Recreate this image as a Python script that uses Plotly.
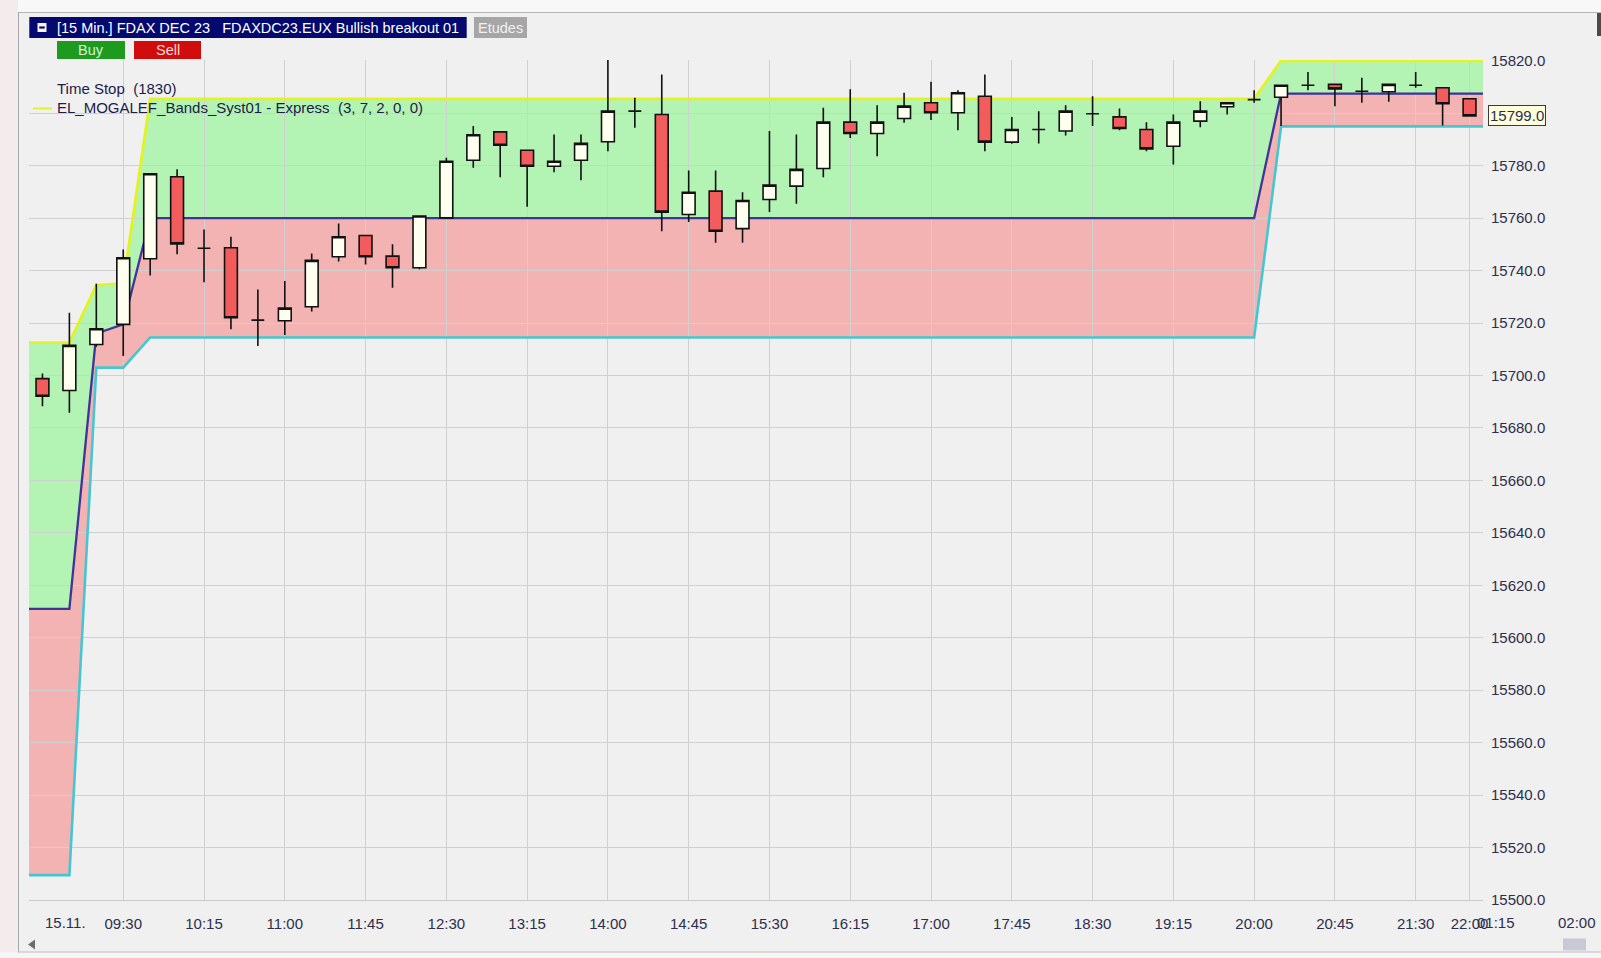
import pandas as pd
import plotly.graph_objects as go

# ------------------------------------------------------------------ data
session_label = "15.11."
bar_times = [t.strftime("%H:%M") for t in pd.date_range("2023-11-15 08:45", "2023-11-15 22:00", freq="15min")]
next_session_times = ["01:15", "01:30", "01:45", "02:00"]
next_session_labels = ["01:15", "02:00"]
tick_labels = ["09:30", "10:15", "11:00", "11:45", "12:30", "13:15", "14:00", "14:45", "15:30",
               "16:15", "17:00", "17:45", "18:30", "19:15", "20:00", "20:45", "21:30", "22:00"]
price_ticks = [15500, 15520, 15540, 15560, 15580, 15600, 15620, 15640, 15660, 15680, 15700,
               15720, 15740, 15760, 15780, 15800, 15820]

opens = [15698.8, 15694.3, 15711.8, 15719.5, 15744.5, 15775.8, 15748.5, 15748.7, 15721.1, 15720.9,
         15726.2, 15745.3, 15753.4, 15745.5, 15741.1, 15760.1, 15782.1, 15792.9, 15785.9, 15779.8,
         15782.1, 15789.1, 15800.8, 15799.5, 15761.4, 15770.3, 15756.0, 15767.1, 15772.2, 15778.9,
         15796.6, 15792.3, 15798.0, 15804.0, 15800.2, 15806.5, 15789.0, 15793.8, 15793.2, 15799.8,
         15798.6, 15793.8, 15787.4, 15797.0, 15802.5, 15805.2, 15806.1, 15810.7, 15811.0, 15808.4,
         15808.2, 15810.7, 15809.7, 15805.5]
highs = [15700.8, 15723.9, 15735.0, 15748.0, 15777.0, 15778.6, 15755.7, 15752.9, 15732.8, 15736.0,
         15746.5, 15758.0, 15753.5, 15750.0, 15761.0, 15783.0, 15795.1, 15793.0, 15786.0, 15791.9,
         15791.9, 15820.8, 15805.9, 15814.8, 15778.2, 15778.2, 15769.9, 15793.2, 15791.9, 15802.1,
         15809.1, 15803.0, 15807.8, 15812.0, 15808.8, 15814.8, 15798.6, 15800.8, 15803.0, 15806.5,
         15801.8, 15796.6, 15799.5, 15804.6, 15804.0, 15808.8, 15810.8, 15815.7, 15811.0, 15813.5,
         15811.0, 15815.7, 15809.8, 15805.6]
lows = [15688.3, 15685.8, 15711.0, 15707.4, 15738.1, 15746.2, 15735.6, 15717.6, 15711.2, 15715.4,
        15724.4, 15743.5, 15742.3, 15733.5, 15740.5, 15760.0, 15779.2, 15775.6, 15764.3, 15777.5,
        15774.4, 15785.5, 15794.5, 15755.0, 15758.5, 15750.6, 15750.6, 15762.3, 15765.5, 15775.6,
        15790.6, 15783.6, 15796.4, 15797.4, 15793.5, 15785.5, 15788.4, 15788.5, 15791.5, 15795.1,
        15793.5, 15785.5, 15780.5, 15794.7, 15799.5, 15804.0, 15795.1, 15808.8, 15802.7, 15804.0,
        15804.4, 15809.7, 15795.3, 15799.0]
closes = [15692.1, 15711.5, 15717.8, 15744.9, 15776.9, 15750.2, 15748.5, 15722.0, 15721.1, 15725.7,
          15743.9, 15752.9, 15745.3, 15741.1, 15760.8, 15781.7, 15791.8, 15787.8, 15779.8, 15781.7,
          15788.5, 15800.8, 15800.8, 15762.3, 15769.9, 15755.0, 15766.7, 15772.6, 15778.6, 15796.6,
          15792.3, 15796.6, 15802.7, 15800.2, 15807.8, 15789.0, 15793.8, 15793.8, 15800.8, 15799.8,
          15794.2, 15786.4, 15796.6, 15800.8, 15804.0, 15805.2, 15810.7, 15810.7, 15809.3, 15808.4,
          15811.0, 15810.7, 15803.6, 15799.0]

band_upper = [15712.5, 15712.5, 15734.5, 15735.0, 15805.5, 15805.5, 15805.5, 15805.5, 15805.5, 15805.5,
              15805.5, 15805.5, 15805.5, 15805.5, 15805.5, 15805.5, 15805.5, 15805.5, 15805.5, 15805.5,
              15805.5, 15805.5, 15805.5, 15805.5, 15805.5, 15805.5, 15805.5, 15805.5, 15805.5, 15805.5,
              15805.5, 15805.5, 15805.5, 15805.5, 15805.5, 15805.5, 15805.5, 15805.5, 15805.5, 15805.5,
              15805.5, 15805.5, 15805.5, 15805.5, 15805.5, 15805.5, 15820.0, 15820.0, 15820.0, 15820.0,
              15820.0, 15820.0, 15820.0, 15820.0]
band_mid = [15611.0, 15611.0, 15716.0, 15719.5, 15760.0, 15760.0, 15760.0, 15760.0, 15760.0, 15760.0,
            15760.0, 15760.0, 15760.0, 15760.0, 15760.0, 15760.0, 15760.0, 15760.0, 15760.0, 15760.0,
            15760.0, 15760.0, 15760.0, 15760.0, 15760.0, 15760.0, 15760.0, 15760.0, 15760.0, 15760.0,
            15760.0, 15760.0, 15760.0, 15760.0, 15760.0, 15760.0, 15760.0, 15760.0, 15760.0, 15760.0,
            15760.0, 15760.0, 15760.0, 15760.0, 15760.0, 15760.0, 15807.5, 15807.5, 15807.5, 15807.5,
            15807.5, 15807.5, 15807.5, 15807.5]
band_lower = [15509.5, 15509.5, 15703.0, 15703.0, 15714.5, 15714.5, 15714.5, 15714.5, 15714.5, 15714.5,
              15714.5, 15714.5, 15714.5, 15714.5, 15714.5, 15714.5, 15714.5, 15714.5, 15714.5, 15714.5,
              15714.5, 15714.5, 15714.5, 15714.5, 15714.5, 15714.5, 15714.5, 15714.5, 15714.5, 15714.5,
              15714.5, 15714.5, 15714.5, 15714.5, 15714.5, 15714.5, 15714.5, 15714.5, 15714.5, 15714.5,
              15714.5, 15714.5, 15714.5, 15714.5, 15714.5, 15714.5, 15795.0, 15795.0, 15795.0, 15795.0,
              15795.0, 15795.0, 15795.0, 15795.0]

header_text = "[15 Min.] FDAX DEC 23&nbsp;&nbsp;&nbsp;FDAXDC23.EUX Bullish breakout 01"
legend_line1 = "Time Stop&nbsp;&nbsp;(1830)"
legend_line2 = "EL_MOGALEF_Bands_Syst01 - Express&nbsp;&nbsp;(3, 7, 2, 0, 0)"

# ------------------------------------------------------------------ geometry
W, H = 1601, 958
ML, MR, MT, MB = 29, 118, 60, 57.5
PW, PH = W - ML - MR, H - MT - MB
FONT = "Liberation Sans, Arial, sans-serif"
TXT = "#2e2e4c"
YRANGE = [15500, 15820.3]

idx = list(range(len(bar_times)))
x0, x1 = idx[0] - 0.5, idx[-1] + 0.5


def px_x(p):
    return (p - ML) / PW


def px_y(p):
    return (H - MB - p) / PH


def bar_to_paper(i):
    return (i - x0) / (x1 - x0)


def ext(v):
    return [v[0]] + list(v) + [v[-1]]


x_band = [x0] + idx + [x1]

fig = go.Figure()
# band lines (base axes)
fig.add_trace(go.Scatter(x=x_band, y=ext(band_lower), mode="lines", line=dict(color="#45c6d0", width=2.6),
                         hoverinfo="skip", showlegend=False))
fig.add_trace(go.Scatter(x=x_band, y=ext(band_mid), mode="lines", line=dict(color="#3d3598", width=2.3),
                         hoverinfo="skip", showlegend=False))
fig.add_trace(go.Scatter(x=x_band, y=ext(band_upper), mode="lines", line=dict(color="#e4f222", width=2.8),
                         hoverinfo="skip", showlegend=False))
# candles on an overlaid pair of axes so they sit above the band lines
fig.add_trace(go.Candlestick(
    x=idx, open=opens, high=highs, low=lows, close=closes, xaxis="x2", yaxis="y2",
    increasing=dict(fillcolor="#fffff0", line=dict(color="#111111", width=1.6)),
    decreasing=dict(fillcolor="#f25c5c", line=dict(color="#111111", width=1.6)),
    whiskerwidth=0, showlegend=False, hoverinfo="skip"))

tick_vals = [bar_times.index(t) for t in tick_labels]
price_text = ["" if p == 15800 else f"{p:.1f}" for p in price_ticks]

shapes = []


def band_path(top, bottom):
    xs = x_band
    pts = [f"{x},{y}" for x, y in zip(xs, ext(top))]
    pts += [f"{x},{y}" for x, y in zip(reversed(xs), reversed(ext(bottom)))]
    return "M " + " L ".join(pts) + " Z"


# band fills drawn beneath the gridlines, as in the reference
shapes.append(dict(type="path", xref="x", yref="y", layer="below", path=band_path(band_mid, band_lower),
                   fillcolor="#f3b3b3", line=dict(width=0)))
shapes.append(dict(type="path", xref="x", yref="y", layer="below", path=band_path(band_upper, band_mid),
                   fillcolor="#b3f3b3", line=dict(width=0)))


def rect(xa, ya, xb, yb, color, line=None):
    shapes.append(dict(type="rect", xref="paper", yref="paper", layer="above",
                       x0=px_x(xa), x1=px_x(xb), y0=px_y(ya), y1=px_y(yb),
                       fillcolor=color, line=dict(width=0) if line is None else line))


def hline(xa, xb, y, color, width):
    shapes.append(dict(type="line", xref="paper", yref="paper", layer="above",
                       x0=px_x(xa), x1=px_x(xb), y0=px_y(y), y1=px_y(y),
                       line=dict(color=color, width=width)))


def vline(x, ya, yb, color, width):
    shapes.append(dict(type="line", xref="paper", yref="paper", layer="above",
                       x0=px_x(x), x1=px_x(x), y0=px_y(ya), y1=px_y(yb),
                       line=dict(color=color, width=width)))


# outer frame of the screenshot
rect(0, 0, W, 12, "#f8f8f8")
rect(0, 0, 18, H, "#f4ecec")
rect(0, 953, W, H, "#f6f6f6")
hline(18, W, 12.5, "#b4b4b4", 1)
vline(18.5, 12, 953, "#a8a8a8", 1)
hline(18, W, 952.5, "#c0c0c0", 1)
rect(1597, 13, W, 36, "#4a4a4a")
# header
rect(29.3, 17, 466.7, 38, "#03096e")
rect(37.5, 23, 46.5, 32, "#f4f4f4")
hline(39.3, 44.7, 27.5, "#03096e", 2.2)
rect(474, 17, 527, 38, "#a6a6a6")
rect(57, 41, 125, 59, "#1e9b1e")
rect(134, 41, 201, 59, "#d00c0c")
# legend line marker
hline(33, 52, 108.5, "#e4f222", 2)
# scrollbar
shapes.append(dict(type="path", xref="paper", yref="paper", layer="above",
                   path=f"M {px_x(28)} {px_y(945)} L {px_x(35)} {px_y(940)} L {px_x(35)} {px_y(950)} Z",
                   fillcolor="#6e6e6e", line=dict(width=0)))
rect(1563, 939, 1586, 951, "#c9c9d6")

annotations = []


def label(x, y, text, color, size, anchor="left"):
    annotations.append(dict(xref="paper", yref="paper", x=px_x(x), y=px_y(y), text=text,
                            showarrow=False, xanchor=anchor, yanchor="middle",
                            font=dict(family=FONT, size=size, color=color)))


label(55, 27.5, header_text, "#ffffff", 14.5)
label(500.5, 27.5, "Etudes", "#f2f2f2", 14.5, "center")
label(91, 50, "Buy", "#d2f5d2", 14.5, "center")
label(167.5, 50, "Sell", "#ffd8d8", 14.5, "center")
label(55, 89, legend_line1, "#1c1c4a", 15)
label(55, 108, legend_line2, "#1c1c4a", 15)

XLAB_Y = 923
annotations.append(dict(xref="paper", yref="paper", x=bar_to_paper(idx[0]) + 1 / PW, y=px_y(XLAB_Y),
                        text=session_label, showarrow=False, xanchor="left", yanchor="middle",
                        font=dict(family=FONT, size=15, color=TXT)))
for lab in next_session_labels:
    pos = idx[-1] + 1 + next_session_times.index(lab)
    annotations.append(dict(xref="paper", yref="paper", x=bar_to_paper(pos), y=px_y(XLAB_Y),
                            text=lab, showarrow=False, xanchor="center", yanchor="middle",
                            font=dict(family=FONT, size=15, color=TXT)))
# last price marker
annotations.append(dict(xref="paper", yref="y", x=px_x(1488), y=closes[-1], text=f"{closes[-1]:.1f}",
                        showarrow=False, xanchor="left", yanchor="middle", bgcolor="#ffffdc",
                        bordercolor="#3a3a3a", borderwidth=1, borderpad=1,
                        font=dict(family=FONT, size=15, color=TXT)))

fig.update_layout(
    width=W, height=H,
    margin=dict(l=ML, r=MR, t=MT, b=MB, pad=0),
    paper_bgcolor="#f0f0f0", plot_bgcolor="#f0f0f0",
    hovermode=False, showlegend=False,
    boxgap=0.32,
    font=dict(family=FONT, size=15, color=TXT),
    xaxis=dict(range=[x0, x1], tickvals=tick_vals, ticktext=tick_labels, showgrid=True,
               gridcolor="#d0d0d0", gridwidth=1, zeroline=False, ticks="", showline=True,
               linecolor="#c9c9c9", linewidth=1, rangeslider=dict(visible=False),
               tickfont=dict(family=FONT, size=15, color=TXT), ticklabelstandoff=10),
    yaxis=dict(range=YRANGE, side="right", tickvals=price_ticks, ticktext=price_text,
               showgrid=True, gridcolor="#d0d0d0", gridwidth=1, zeroline=False, ticks="",
               tickfont=dict(family=FONT, size=15, color=TXT), ticklabelstandoff=7),
    xaxis2=dict(overlaying="x", range=[x0, x1], visible=False, showgrid=False, zeroline=False,
                rangeslider=dict(visible=False)),
    yaxis2=dict(overlaying="y", range=YRANGE, visible=False, showgrid=False, zeroline=False),
    shapes=shapes, annotations=annotations,
)

fig.write_html("out.html", config={"displayModeBar": False},
               post_script="document.body.style.margin='0';")
